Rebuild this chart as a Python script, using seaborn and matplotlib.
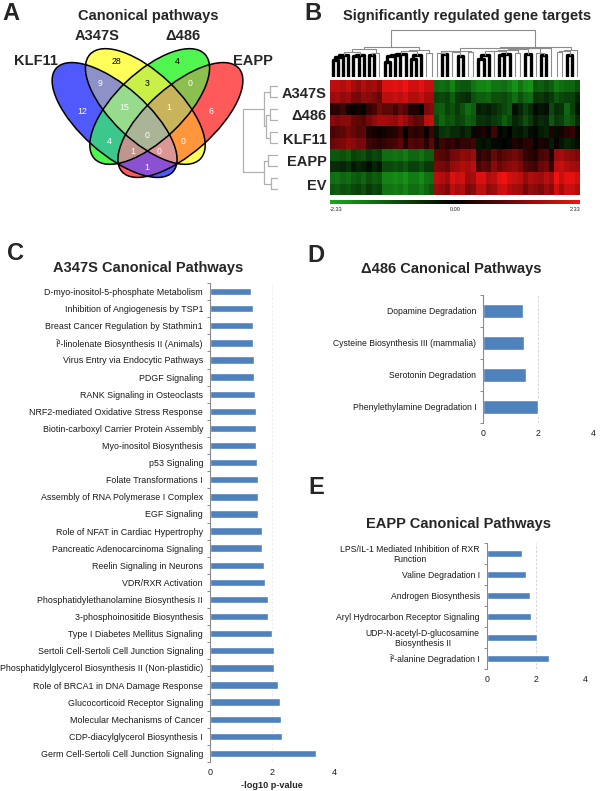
import numpy as np
import pandas as pd
import matplotlib
matplotlib.use("Agg")
import matplotlib.pyplot as plt
import seaborn as sns
from matplotlib.patches import Ellipse
from matplotlib.colors import LinearSegmentedColormap

sns.set_style("white")
plt.rcParams["font.family"] = ["Liberation Sans", "DejaVu Sans"]

# ---------------- data ----------------
venn_sets = ["KLF11", "A347S", "\u0394486", "EAPP"]
venn_codes = ["1000", "0100", "0010", "0001", "1100", "0110", "0011", "1110",
              "0111", "1111", "1010", "0101", "1011", "1101", "1001"]
venn_counts = [12, 28, 4, 6, 9, 3, 0, 15, 1, 0, 4, 0, 1, 0, 1]

hm_rows = ["A347S", "A347S", "\u0394486", "\u0394486", "KLF11", "KLF11",
           "EAPP", "EAPP", "EV", "EV"]
expr_left = [
    [1.8, 2.1, 1.6, 2.2, 1.9, 1.4, 2.0, 2.3, 1.7, 1.5, 2.1, 1.9, 1.6, 2.2, 1.8, 1.3, 2.0, 1.7, 2.1, 1.9],
    [1.5, 1.8, 1.2, 1.9, 1.6, 1.1, 1.7, 2.0, 1.4, 1.3, 1.8, 1.5, 1.2, 1.9, 1.6, 1.0, 1.7, 1.4, 1.8, 1.6],
    [0.4, 0.9, 0.1, 0.6, 1.2, 0.2, 0.3, 0.8, -0.1, 0.5, 1.0, 0.2, 0.7, 0.0, 0.4, 1.1, 0.3, 0.6, 0.9, 1.3],
    [1.3, 1.6, 1.0, 1.4, 1.8, 0.9, 1.2, 1.5, 0.8, 1.1, 1.7, 1.3, 1.4, 1.0, 1.2, 1.6, 0.9, 1.3, 1.5, 1.9],
    [0.7, 0.2, 1.0, 0.4, 0.1, 0.8, 0.5, 0.0, 0.9, 0.3, 0.6, 1.1, 0.2, 0.5, 0.8, 0.1, 0.4, 0.9, 0.3, 0.6],
    [1.0, 0.5, 1.3, 0.7, 0.4, 1.1, 0.8, 0.3, 1.2, 0.6, 0.9, 1.4, 0.5, 0.8, 1.1, 0.4, 0.7, 1.2, 0.6, 0.9],
    [-1.2, -1.5, -0.9, -1.6, -1.3, -1.0, -1.4, -1.7, -1.1, -0.8, -1.5, -1.3, -1.0, -1.6, -1.2, -0.9, -1.4, -1.1, -1.5, -1.3],
    [-0.6, -1.0, -0.3, -1.1, -0.8, -0.5, -0.9, -1.2, -0.4, -0.2, -1.0, -0.7, -0.5, -1.1, -0.6, -0.3, -0.9, -0.5, -1.0, -0.8],
    [-1.5, -1.8, -1.3, -1.9, -1.6, -1.2, -1.7, -2.0, -1.4, -1.1, -1.8, -1.5, -1.3, -1.9, -1.6, -1.2, -1.7, -1.4, -1.8, -1.5],
    [-1.2, -1.6, -1.0, -1.7, -1.4, -0.9, -1.5, -1.8, -1.1, -0.8, -1.6, -1.2, -1.0, -1.7, -1.3, -0.9, -1.5, -1.1, -1.6, -1.2],
]
expr_right = [
    [-1.4, -1.8, -1.2, -1.6, -2.0, -1.3, -1.7, -1.5, -1.1, -1.9, -1.4, -1.6, -1.2, -1.8, -1.5, -1.3, -1.7, -2.0, -1.4, -1.1, -1.6, -1.8, -1.3, -1.5, -1.9, -1.2, -1.6, -1.4],
    [-0.9, -1.3, -0.6, -1.1, -1.5, -0.8, -1.2, -1.0, -0.5, -1.4, -0.9, -1.1, -0.7, -1.3, -1.0, -0.8, -1.2, -1.5, -0.9, -0.6, -1.1, -1.3, -0.8, -1.0, -1.4, -0.7, -1.1, -0.9],
    [-1.2, -0.4, -1.5, -0.8, -0.2, -1.0, -0.6, -1.3, -0.3, -0.9, -1.4, -0.5, -0.1, -1.1, -0.7, -0.3, -1.2, -0.6, -0.9, -0.2, -1.3, -0.5, -0.8, -1.0, -0.4, -1.1, -0.6, -0.9],
    [-1.0, -0.7, -1.3, -0.9, -0.5, -1.2, -0.8, -1.4, -0.6, -1.1, -1.3, -0.7, -0.4, -1.2, -0.9, -0.6, -1.0, -0.8, -1.1, -0.5, -1.2, -0.7, -0.9, -1.3, -0.6, -1.0, -0.8, -1.1],
    [-0.3, 0.2, -0.6, 0.0, -0.4, 0.3, -0.2, -0.7, 0.1, -0.5, 0.4, -0.3, -0.1, -0.6, 0.2, -0.4, 0.0, -0.2, 0.5, -0.5, -0.1, 0.3, -0.6, -0.2, 0.1, -0.4, 0.6, -0.8],
    [0.2, -0.3, 0.5, -0.1, 0.3, -0.4, 0.1, 0.6, -0.2, 0.4, -0.5, 0.2, 0.0, 0.5, -0.3, 0.3, -0.1, 0.4, -0.4, 0.2, 0.6, -0.2, 0.3, 0.0, -0.3, 0.5, -0.1, 0.4],
    [0.9, 0.4, 1.3, 0.7, 1.1, 0.2, 1.5, 0.8, 1.2, 0.5, 1.4, 0.9, 0.3, 1.1, 1.6, 0.7, 1.0, 0.4, 1.3, 0.8, 1.5, 0.6, 1.2, 0.9, 0.5, 1.4, 1.0, 0.7],
    [1.2, 0.7, 1.6, 1.0, 1.4, 0.5, 1.8, 1.1, 1.5, 0.8, 1.7, 1.2, 0.6, 1.4, 1.9, 1.0, 1.3, 0.7, 1.6, 1.1, 1.8, 0.9, 1.5, 1.2, 0.8, 1.7, 1.3, 1.0],
    [1.8, 2.1, 1.5, 2.2, 1.9, 1.6, 2.3, 1.7, 2.0, 1.4, 2.2, 1.8, 1.6, 2.1, 1.9, 1.5, 2.0, 1.7, 2.2, 1.8, 1.6, 2.1, 1.9, 2.3, 1.7, 2.0, 1.8, 1.5],
    [1.5, 1.8, 1.2, 1.9, 1.6, 1.3, 2.0, 1.4, 1.7, 1.1, 1.9, 1.5, 1.3, 1.8, 1.6, 1.2, 1.7, 1.4, 1.9, 1.5, 1.3, 1.8, 1.6, 2.0, 1.4, 1.7, 1.5, 1.2],
]
# row tree: (child a, child b, height); new node ids start at 10
row_links = [(0, 1, 8), (2, 3, 8), (4, 5, 8), (6, 7, 10), (8, 9, 7),
             (11, 12, 12), (10, 15, 14), (13, 14, 14), (16, 17, 35)]

c_pathways = [
    "D-myo-inositol-5-phosphate Metabolism",
    "Inhibition of Angiogenesis by TSP1",
    "Breast Cancer Regulation by Stathmin1",
    "\u00ce\u00b3-linolenate Biosynthesis II (Animals)",
    "Virus Entry via Endocytic Pathways",
    "PDGF Signaling",
    "RANK Signaling in Osteoclasts",
    "NRF2-mediated Oxidative Stress Response",
    "Biotin-carboxyl Carrier Protein Assembly",
    "Myo-inositol Biosynthesis",
    "p53 Signaling",
    "Folate Transformations I",
    "Assembly of RNA Polymerase I Complex",
    "EGF Signaling",
    "Role of NFAT in Cardiac Hypertrophy",
    "Pancreatic Adenocarcinoma Signaling",
    "Reelin Signaling in Neurons",
    "VDR/RXR Activation",
    "Phosphatidylethanolamine Biosynthesis II",
    "3-phosphoinositide Biosynthesis",
    "Type I Diabetes Mellitus Signaling",
    "Sertoli Cell-Sertoli Cell Junction Signaling",
    "Phosphatidylglycerol Biosynthesis II (Non-plastidic)",
    "Role of BRCA1 in DNA Damage Response",
    "Glucocorticoid Receptor Signaling",
    "Molecular Mechanisms of Cancer",
    "CDP-diacylglycerol Biosynthesis I",
    "Germ Cell-Sertoli Cell Junction Signaling",
]
c_values = [1.31, 1.38, 1.38, 1.40, 1.42, 1.43, 1.44, 1.48, 1.48, 1.48, 1.52, 1.54,
            1.54, 1.55, 1.68, 1.69, 1.74, 1.78, 1.87, 1.87, 1.99, 2.05, 2.07, 2.19,
            2.25, 2.30, 2.32, 3.43]

d_pathways = ["Dopamine Degradation", "Cysteine Biosynthesis III (mammalia)",
              "Serotonin Degradation", "Phenylethylamine Degradation I"]
d_values = [1.43, 1.48, 1.54, 2.00]

e_pathways = ["LPS/IL-1 Mediated Inhibition of RXR\nFunction", "Valine Degradation I",
              "Androgen Biosynthesis", "Aryl Hydrocarbon Receptor Signaling",
              "UDP-N-acetyl-D-glucosamine\nBiosynthesis II",
              "\u00ce\u00b2-alanine Degradation I"]
e_values = [1.42, 1.59, 1.74, 1.77, 2.04, 2.52]

# ---------------- layout helpers ----------------
W, H = 600, 791
fig = plt.figure(figsize=(6, 7.91), dpi=100)


def px(x0, y0, x1, y1):
    return [x0 / W, 1 - y1 / H, (x1 - x0) / W, (y1 - y0) / H]


def ftext(x, y, s, **kw):
    fig.text(x / W, 1 - y / H, s, **kw)


BAR = "#4F81BD"

# ---------------- Panel A: Venn (axes in pixel units, y downward) ----------------
ell_geom = [(114.6, 120.0, 156, 67, 41.5),
            (145.3, 106.5, 152, 68, 43.5),
            (149.7, 106.5, 152, 68, -43.5),
            (180.4, 120.0, 156, 67, -41.5)]
region_rgb = {
    "1000": (80, 90, 250), "0100": (255, 255, 90), "0010": (80, 245, 80),
    "0001": (255, 90, 90), "1100": (140, 145, 200), "0110": (200, 240, 70),
    "0011": (140, 190, 80), "1110": (150, 220, 140), "0111": (200, 180, 90),
    "1111": (170, 180, 150), "1010": (60, 200, 140), "0101": (255, 150, 60),
    "1011": (190, 150, 140), "1101": (220, 150, 150), "1001": (140, 80, 210),
}
label_pos = {
    "1000": (82, 112), "0100": (116, 62), "0010": (177, 62), "0001": (211, 112),
    "1100": (100, 83), "0110": (147, 83), "0011": (190, 83), "1110": (124, 108),
    "0111": (169, 108), "1111": (147, 135), "1010": (109, 141), "0101": (183, 141),
    "1011": (133, 152), "1101": (159, 152), "1001": (147, 167),
}
dark_text = {"0100", "0010", "0110"}

VX0, VY0, VX1, VY1 = 40, 40, 260, 185
axv = fig.add_axes(px(VX0, VY0, VX1, VY1))
gx = np.linspace(VX0, VX1, 660)
gy = np.linspace(VY0, VY1, 435)
GX, GY = np.meshgrid(gx, gy)
inside = []
for cx, cy, w, h, ang in ell_geom:
    t = np.deg2rad(ang)
    dx, dy = GX - cx, GY - cy
    u = dx * np.cos(t) + dy * np.sin(t)
    v = -dx * np.sin(t) + dy * np.cos(t)
    inside.append((u / (w / 2)) ** 2 + (v / (h / 2)) ** 2 <= 1)
img = np.zeros(GX.shape + (4,))
for code, rgb in region_rgb.items():
    m = np.ones(GX.shape, bool)
    for k, b in enumerate(code):
        m &= inside[k] if b == "1" else ~inside[k]
    img[m] = [rgb[0] / 255, rgb[1] / 255, rgb[2] / 255, 1.0]
axv.imshow(img, extent=[VX0, VX1, VY1, VY0], origin="upper",
           aspect="auto", interpolation="nearest")
for cx, cy, w, h, ang in ell_geom:
    axv.add_patch(Ellipse((cx, cy), w, h, angle=ang, fill=False, ec="black",
                          lw=1.1, clip_on=False))
for code, cnt in zip(venn_codes, venn_counts):
    x, y = label_pos[code]
    axv.text(x, y, str(cnt), ha="center", va="center", fontsize=6.3,
             color="black" if code in dark_text else "white")
axv.set_xlim(VX0, VX1)
axv.set_ylim(VY1, VY0)
axv.axis("off")

ftext(11, 14, "A", fontsize=17, fontweight="bold", ha="center", va="center")
ftext(148, 16, "Canonical pathways", fontsize=10.5, fontweight="bold",
      ha="center", va="center")
for name, (x, y) in zip(venn_sets, [(35.5, 61), (97.5, 36), (183, 36), (253, 61)]):
    ftext(x, y, name, fontsize=10.5, fontweight="bold", ha="center", va="center")

# ---------------- Panel B: clustered heatmap ----------------
expr = np.hstack([np.array(expr_left), np.array(expr_right)])
ncol = expr.shape[1]
cols = expr.T
Dm = np.sqrt(((cols[:, None, :] - cols[None, :, :]) ** 2).sum(-1))
clusters = {i: [i] for i in range(ncol)}
col_links = []
nid = ncol
while len(clusters) > 1:
    keys = list(clusters)
    best = None
    for i in range(len(keys)):
        for j in range(i + 1, len(keys)):
            a, b = keys[i], keys[j]
            d = Dm[np.ix_(clusters[a], clusters[b])].mean()
            if best is None or d < best[0]:
                best = (d, a, b)
    d, a, b = best
    col_links.append((a, b, d))
    clusters[nid] = clusters.pop(a) + clusters.pop(b)
    nid += 1

children = {ncol + k: (a, b) for k, (a, b, _) in enumerate(col_links)}


def leaf_order(node):
    if node < ncol:
        return [node]
    a, b = children[node]
    la, lb = leaf_order(a), leaf_order(b)
    if min(lb) < min(la):
        la, lb = lb, la
    return la + lb


order = leaf_order(ncol + len(col_links) - 1)


def dendro_segs(links, leaf_pos):
    pos = dict(leaf_pos)
    hgt = {k: 0.0 for k in leaf_pos}
    segs = []
    n = len(leaf_pos)
    for a, b, h in links:
        segs.append(([pos[a], pos[a], pos[b], pos[b]], [hgt[a], h, h, hgt[b]], h))
        pos[n] = (pos[a] + pos[b]) / 2
        hgt[n] = h
        n += 1
    return segs


# top dendrogram (heights compressed for display)
axd = fig.add_axes(px(330, 29, 580, 77))
col_pos = {c: order.index(c) + 0.5 for c in range(ncol)}
disp_links = [(a, b, h ** 0.3) for a, b, h in col_links]
segs = dendro_segs(disp_links, col_pos)
hmax = max(s[2] for s in segs)
for xs, ys, h in segs:
    low = h < 0.5 * hmax
    axd.plot(xs, ys, color="black" if low else "#8c8c8c", lw=2.4 if low else 0.8,
             solid_capstyle="butt")
axd.set_xlim(0, ncol)
axd.set_ylim(0, hmax * 1.02)
axd.axis("off")

# heatmap
axh = fig.add_axes(px(330, 80, 580, 195))
cmap = LinearSegmentedColormap.from_list("gkr", ["#1aa81a", "#000000", "#f21212"])
hm_df = pd.DataFrame(expr[:, order], index=range(len(hm_rows)))
sns.heatmap(hm_df, ax=axh, cmap=cmap, vmin=-2.33, vmax=2.33, cbar=False,
            xticklabels=False, yticklabels=False)

# row dendrogram
axr = fig.add_axes(px(240, 80, 278, 195))
row_pos = {r: r + 0.5 for r in range(len(hm_rows))}
for xs, ys, h in dendro_segs(row_links, row_pos):
    axr.plot(ys, xs, color="#b0b0b0", lw=0.9)
axr.set_xlim(38, 0)
axr.set_ylim(len(hm_rows), 0)
axr.axis("off")

for k, name in enumerate(hm_rows[::2]):
    yc = 80 + 115 / 10 * (2 * k + 1)
    ftext(327, yc + 2, name, fontsize=10.5, fontweight="bold", ha="right",
          va="center")

# colour bar
cax = fig.add_axes(px(330, 200, 580, 204))
cb = fig.colorbar(axh.collections[0], cax=cax, orientation="horizontal")
cb.set_ticks([])
cb.outline.set_visible(False)
ftext(330, 209.5, "-2.33", fontsize=4, ha="left", va="center")
ftext(455, 209.5, "0.00", fontsize=4, ha="center", va="center")
ftext(580, 209.5, "2.33", fontsize=4, ha="right", va="center")

ftext(313, 13, "B", fontsize=17, fontweight="bold", ha="center", va="center")
ftext(467, 16, "Significantly regulated gene targets", fontsize=10.5,
      fontweight="bold", ha="center", va="center")


# ---------------- bar panels ----------------
def bar_panel(box, labels, values, width, ylab_fs, xt_fs, grid_col):
    ax = fig.add_axes(px(*box))
    df = pd.DataFrame({"pathway": labels, "value": values})
    sns.barplot(data=df, x="value", y="pathway", orient="h", color=BAR,
                saturation=1, width=width, ax=ax)
    n = len(labels)
    ax.set_xlim(0, 4)
    ax.set_ylim(n - 0.5, -0.5)
    ax.set_xticks([0, 2, 4])
    ax.set_xticklabels(["0", "2", "4"])
    ax.set_xlabel("")
    ax.set_ylabel("")
    ax.set_axisbelow(True)
    ax.xaxis.grid(True, color=grid_col, ls=(0, (3, 2)), lw=0.6)
    for s in ["top", "right", "bottom"]:
        ax.spines[s].set_visible(False)
    ax.spines["left"].set_color("#8a8a8a")
    ax.spines["left"].set_linewidth(0.8)
    ax.set_yticks(np.arange(-0.5, n, 1.0), minor=True)
    ax.tick_params(axis="y", which="major", length=0, pad=5, labelsize=ylab_fs,
                   labelcolor="#1a1a1a")
    ax.tick_params(axis="y", which="minor", length=2.5, width=0.7,
                   color="#8a8a8a", direction="out", left=True)
    ax.tick_params(axis="x", length=0, pad=4.5, labelsize=xt_fs,
                   labelcolor="#1a1a1a")
    for t in ax.get_yticklabels():
        t.set_multialignment("center")
        t.set_linespacing(1.1)
    return ax


axc = bar_panel((210, 283, 334, 762), c_pathways, c_values, 0.43, 6.4, 6.5,
                "#ececec")
axc.set_xlabel("-log10 p-value", fontsize=6.6, fontweight="bold", labelpad=3)
ftext(15, 254, "C", fontsize=17, fontweight="bold", ha="center", va="center")
ftext(148, 268, "A347S Canonical Pathways", fontsize=10.5, fontweight="bold",
      ha="center", va="center")

axd2 = bar_panel((483.3, 295, 593.3, 423), d_pathways, d_values, 0.41, 6.2, 6.3,
                 "#cfcfcf")
ftext(316, 255, "D", fontsize=17, fontweight="bold", ha="center", va="center")
ftext(451, 269, "\u0394486 Canonical Pathways", fontsize=10.5, fontweight="bold",
      ha="center", va="center")

axe = bar_panel((486.7, 543, 585.7, 669), e_pathways, e_values, 0.38, 6.2, 6.3,
                "#cfcfcf")
ftext(316, 487, "E", fontsize=17, fontweight="bold", ha="center", va="center")
ftext(459, 524, "EAPP Canonical Pathways", fontsize=10.5, fontweight="bold",
      ha="center", va="center")

fig.savefig("out.png", dpi=100)
